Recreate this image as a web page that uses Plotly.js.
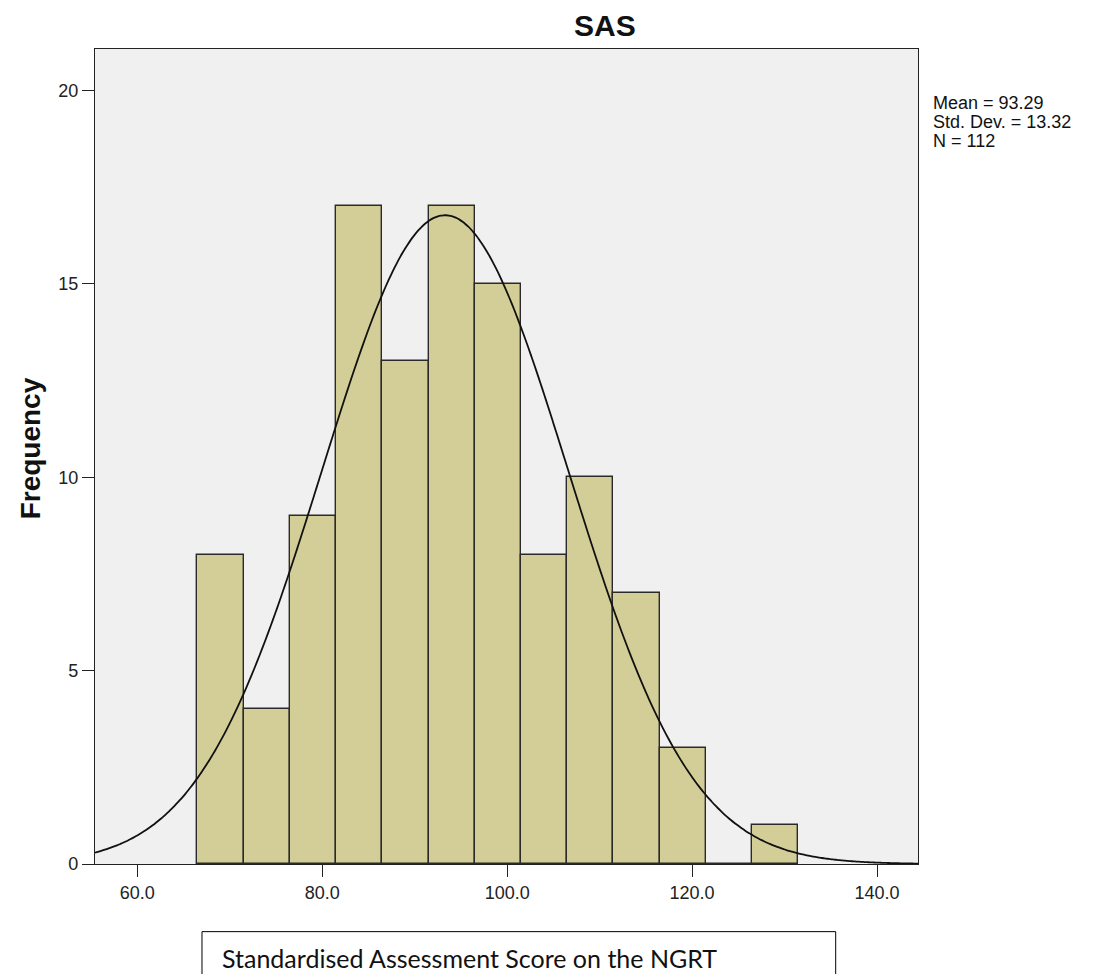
<!DOCTYPE html>
<html>
<head>
<meta charset="utf-8">
<script src="https://cdn.plot.ly/plotly-3.0.1.min.js"></script>
<style>
  html, body { margin: 0; padding: 0; background: #ffffff; }
  #chart { width: 1104px; height: 974px; }
</style>
</head>
<body>
<div id="chart"></div>
<script>
// Histogram of SAS scores (bin width 5), with a fitted normal curve
const binCenters = [69, 74, 79, 84, 89, 94, 99, 104, 109, 114, 119, 124, 129];
const binCounts  = [8, 4, 9, 17, 13, 17, 15, 8, 10, 7, 3, 0, 1];
const binWidth = 5;

const meanValue = 93.29;
const stdDev = 13.32;
const nCases = 112;

const xTicks = [60, 80, 100, 120, 140];
const yTicks = [0, 5, 10, 15, 20];

const xRange = [55.43, 144.43];
const yRange = [0, 21.07];

// Normal density scaled to counts per bin
const curveX = [];
const curveY = [];
const steps = 300;
for (let i = 0; i <= steps; i++) {
  const x = xRange[0] + (xRange[1] - xRange[0]) * i / steps;
  const z = (x - meanValue) / stdDev;
  curveX.push(x);
  curveY.push(nCases * binWidth * Math.exp(-0.5 * z * z) / (stdDev * Math.sqrt(2 * Math.PI)));
}

const bars = {
  type: 'bar',
  x: binCenters,
  y: binCounts,
  width: binWidth,
  marker: { color: '#d3ce97', line: { color: '#2a2a2a', width: 1.4 } },
  hoverinfo: 'x+y'
};

const curve = {
  type: 'scatter',
  mode: 'lines',
  x: curveX,
  y: curveY,
  line: { color: '#111111', width: 1.8, shape: 'spline' },
  hoverinfo: 'skip'
};

const arial = 'Arial, "Liberation Sans", sans-serif';
const tickFont = { family: arial, size: 18, color: '#222222' };
const statFont = { family: arial, size: 18, color: '#111111' };

const axisStyle = {
  ticks: 'outside',
  ticklen: 12,
  tickwidth: 1.4,
  tickcolor: '#222222',
  showline: true,
  linecolor: '#222222',
  linewidth: 1.4,
  mirror: true,
  showgrid: false,
  zeroline: false,
  tickfont: tickFont
};

// Summary statistics shown to the right of the plot
const statLines = [
  'Mean = ' + meanValue.toFixed(2),
  'Std. Dev. = ' + stdDev.toFixed(2),
  'N = ' + nCases
];
const statAnnotations = statLines.map((t, i) => ({
  text: t, xref: 'paper', yref: 'paper',
  x: 1, xshift: 13, y: 1, yshift: -54 - 19 * i,
  xanchor: 'left', yanchor: 'middle',
  showarrow: false, font: statFont
}));

const layout = {
  width: 1104,
  height: 974,
  margin: { l: 95, r: 186, t: 49, b: 110, pad: 0 },
  paper_bgcolor: '#ffffff',
  plot_bgcolor: '#f0f0f0',
  showlegend: false,
  bargap: 0,
  xaxis: Object.assign({ range: xRange, tickvals: xTicks, tickformat: '.1f' }, axisStyle),
  yaxis: Object.assign({ range: yRange, tickvals: yTicks }, axisStyle),
  shapes: [
    {
      type: 'rect', xref: 'paper', yref: 'paper',
      x0: 0.1300, x1: 0.9000, y0: -0.20, y1: -0.0830,
      line: { color: '#000000', width: 1 },
      fillcolor: 'rgba(0,0,0,0)'
    }
  ],
  annotations: [
    {
      text: '<b>SAS</b>', xref: 'paper', yref: 'paper',
      x: 0.62, y: 1, yshift: 24, xanchor: 'center', yanchor: 'middle',
      showarrow: false,
      font: { family: arial, size: 30, color: '#111111' }
    },
    {
      text: '<b>Frequency</b>', xref: 'paper', yref: 'paper',
      x: 0, xshift: -65, y: 0.51, xanchor: 'center', yanchor: 'middle',
      textangle: -90, showarrow: false,
      font: { family: arial, size: 28, color: '#111111' }
    },
    {
      text: 'Standardised Assessment Score on the NGRT', xref: 'paper', yref: 'paper',
      x: 0.152, y: -0.115, xanchor: 'left', yanchor: 'middle',
      showarrow: false,
      font: { family: 'Lato, "Open Sans", sans-serif', size: 25, color: '#111111' }
    }
  ].concat(statAnnotations)
};

Plotly.newPlot('chart', [bars, curve], layout, { displayModeBar: false, responsive: false });
</script>
</body>
</html>
